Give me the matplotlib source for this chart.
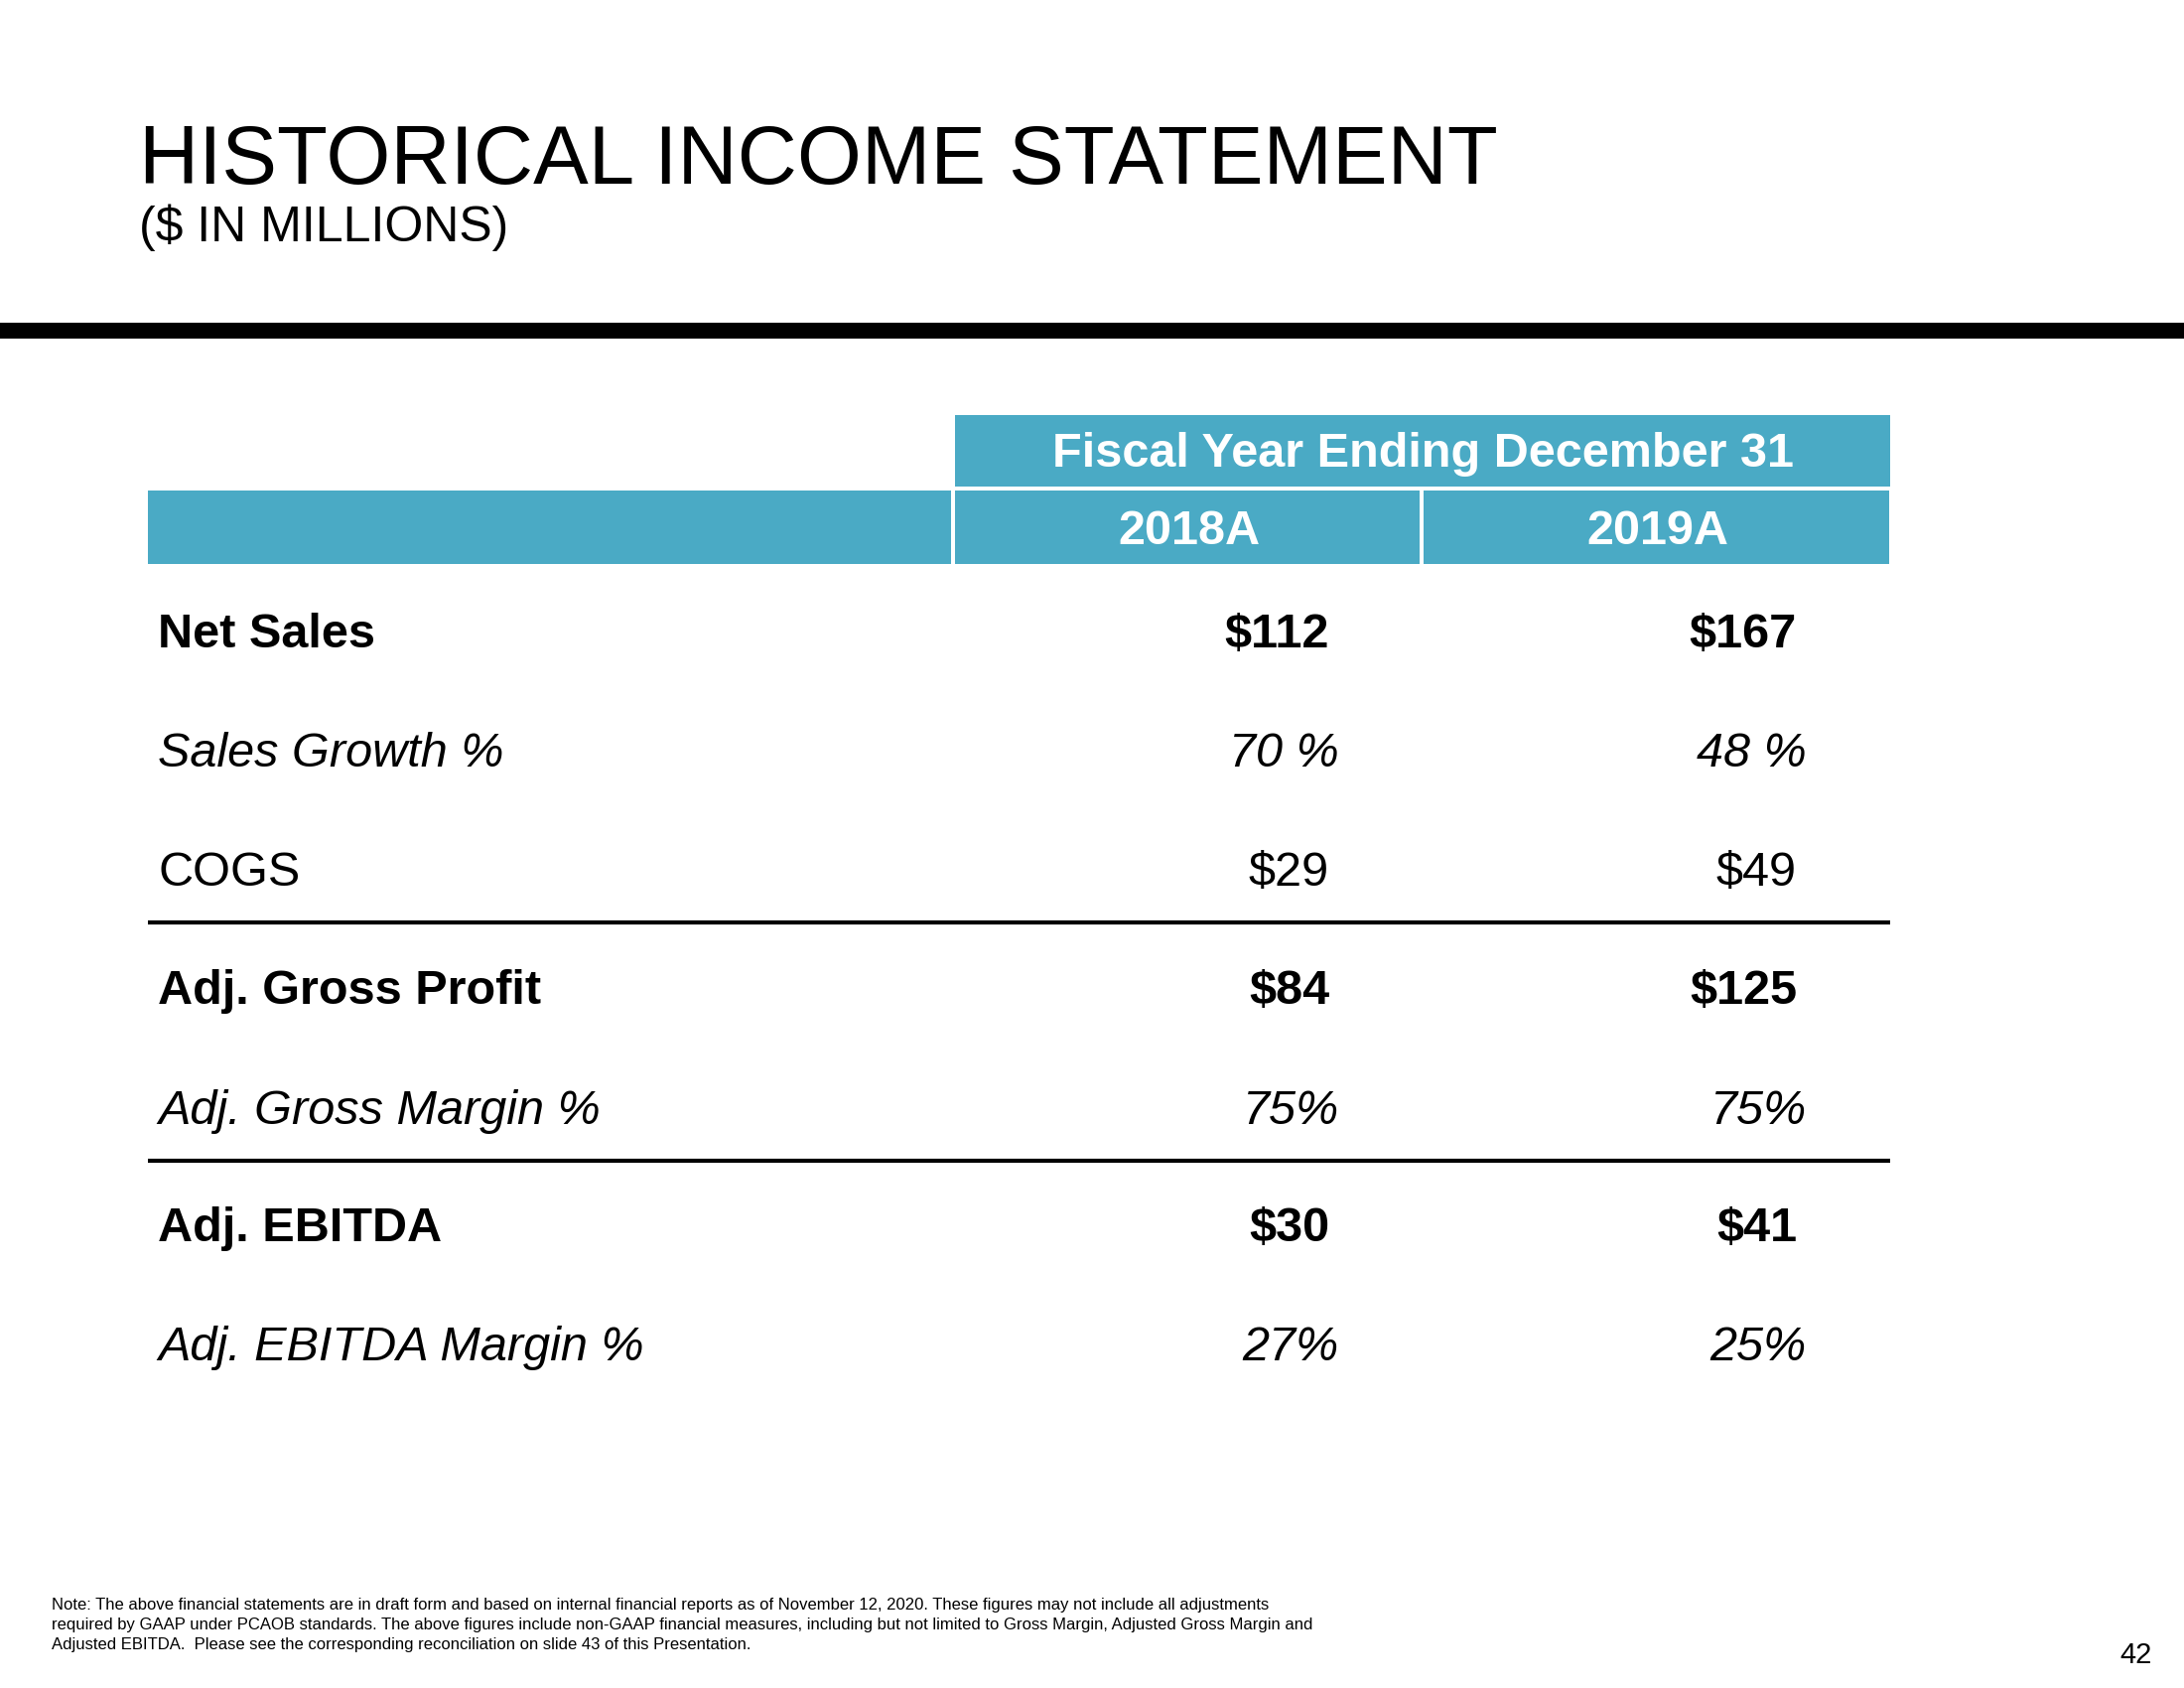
import matplotlib.pyplot as plt
from matplotlib.patches import Rectangle

plt.rcParams['font.family'] = ['Liberation Sans', 'DejaVu Sans']

# data
title = 'HISTORICAL INCOME STATEMENT'
subtitle = '($ IN MILLIONS)'
header = 'Fiscal Year Ending December 31'
years = ['2018A', '2019A']
row_labels = ['Net Sales', 'Sales Growth %', 'COGS', 'Adj. Gross Profit',
              'Adj. Gross Margin %', 'Adj. EBITDA', 'Adj. EBITDA Margin %']
vals_2018 = ['$112', '70 %', '$29', '$84', '75%', '$30', '27%']
vals_2019 = ['$167', '48 %', '$49', '$125', '75%', '$41', '25%']
row_style = ['bold', 'italic', 'normal', 'bold', 'italic', 'bold', 'italic']
note = ('Note: The above financial statements are in draft form and based on internal financial reports as of November 12, 2020. These figures may not include all adjustments\n'
        'required by GAAP under PCAOB standards. The above figures include non-GAAP financial measures, including but not limited to Gross Margin, Adjusted Gross Margin and\n'
        'Adjusted EBITDA.  Please see the corresponding reconciliation on slide 43 of this Presentation.')
page_no = '42'

teal = '#4AAAC5'

fig = plt.figure(figsize=(22, 17), dpi=100)
ax = fig.add_axes([0, 0, 1, 1])
ax.set_xlim(0, 2200)
ax.set_ylim(1700, 0)
ax.axis('off')

# title block
ax.text(140, 185, title, fontsize=60, va='baseline', ha='left')
ax.text(140, 243, subtitle, fontsize=36, va='baseline', ha='left')
ax.add_patch(Rectangle((0, 325), 2200, 16, color='black', lw=0))

# header cells
ax.add_patch(Rectangle((962, 418), 942, 72, color=teal, lw=0))
ax.add_patch(Rectangle((149, 494), 809, 74, color=teal, lw=0))
ax.add_patch(Rectangle((962, 494), 468, 74, color=teal, lw=0))
ax.add_patch(Rectangle((1434, 494), 469, 74, color=teal, lw=0))
ax.text(1433, 457, header, fontsize=35, fontweight='bold', color='white', ha='center', va='center')
col_centers = [1198, 1670]
for cx, yr in zip(col_centers, years):
    ax.text(cx, 536, yr, fontsize=35, fontweight='bold', color='white', ha='center', va='center')

# body rows
row_y = [640, 759, 879, 998, 1119, 1238, 1357]
col_right = [1339, 1810]
for i, lab in enumerate(row_labels):
    st = row_style[i]
    fw = 'bold' if st == 'bold' else 'normal'
    fs = 'italic' if st == 'italic' else 'normal'
    y = row_y[i]
    ax.text(159, y, lab, fontsize=35, fontweight=fw, fontstyle=fs, ha='left', va='center')
    shift = 10 if st == 'italic' else 0
    ax.text(col_right[0] + shift, y, vals_2018[i], fontsize=35, fontweight=fw, fontstyle=fs,
            ha='right', va='center')
    ax.text(col_right[1] + shift, y, vals_2019[i], fontsize=35, fontweight=fw, fontstyle=fs,
            ha='right', va='center')

# separator lines
for ly in [929, 1169]:
    ax.plot([149, 1904], [ly, ly], color='black', lw=3, solid_capstyle='butt')

# footnote and page number
ax.text(52, 1609, note, fontsize=12, ha='left', va='top', linespacing=1.42)
ax.text(2168, 1675, page_no, fontsize=21, ha='right', va='baseline')

fig.savefig('out.png', dpi=100)
